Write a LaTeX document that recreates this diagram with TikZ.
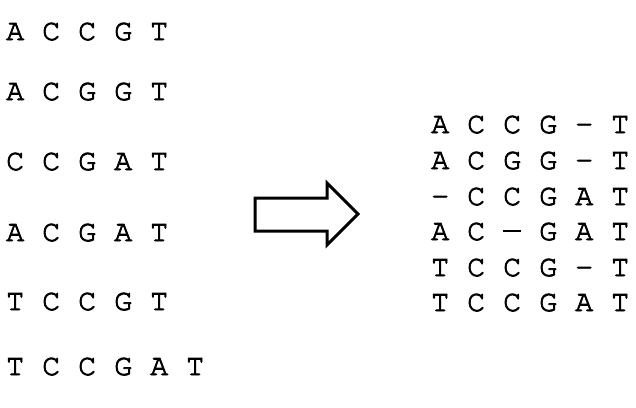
\documentclass[tikz,border=0pt]{standalone}
\usepackage[T1]{fontenc}
\usepackage{courier}
\usetikzlibrary{positioning}
\newcommand\heavytext{\special{pdf:literal direct 2 Tr 0.8 w}}
\tikzset{
  seq/.style={anchor=base west,inner sep=0pt,font=\fontsize{30}{36}\fontfamily{pcr}\selectfont\heavytext},
  bigarrow/.style={line width=3pt,line join=miter}
}

\begin{document}
\begin{tikzpicture}[x=1pt,y=-1pt]
  \useasboundingbox (0,0) rectangle (636,407);
  % reads
  \foreach \n/\y/\t in {1/40/A C C G T,2/100/A C G G T,3/170/C C G A T,
                        4/241/A C G A T,5/310/T C C G T,6/375/T C C G A T}
    \node[seq] (read\n) at (6,\y) {\t};
  % alignment
  \foreach \n/\y/\t in {1/133/A C C G - T,2/169/A C G G - T,3/205/- C C G A T,
                        4/240/A C \rule[8pt]{18pt}{1.6pt} G A T,5/276/T C C G - T,6/311/T C C G A T}
    \node[seq] (aln\n) at (431,\y) {\t};
  % arrow
  \draw[bigarrow] (255,198) -- (327,198) -- (327,183) -- (358,214)
    -- (327,245) -- (327,231) -- (255,231) -- cycle;
\end{tikzpicture}
\end{document}
